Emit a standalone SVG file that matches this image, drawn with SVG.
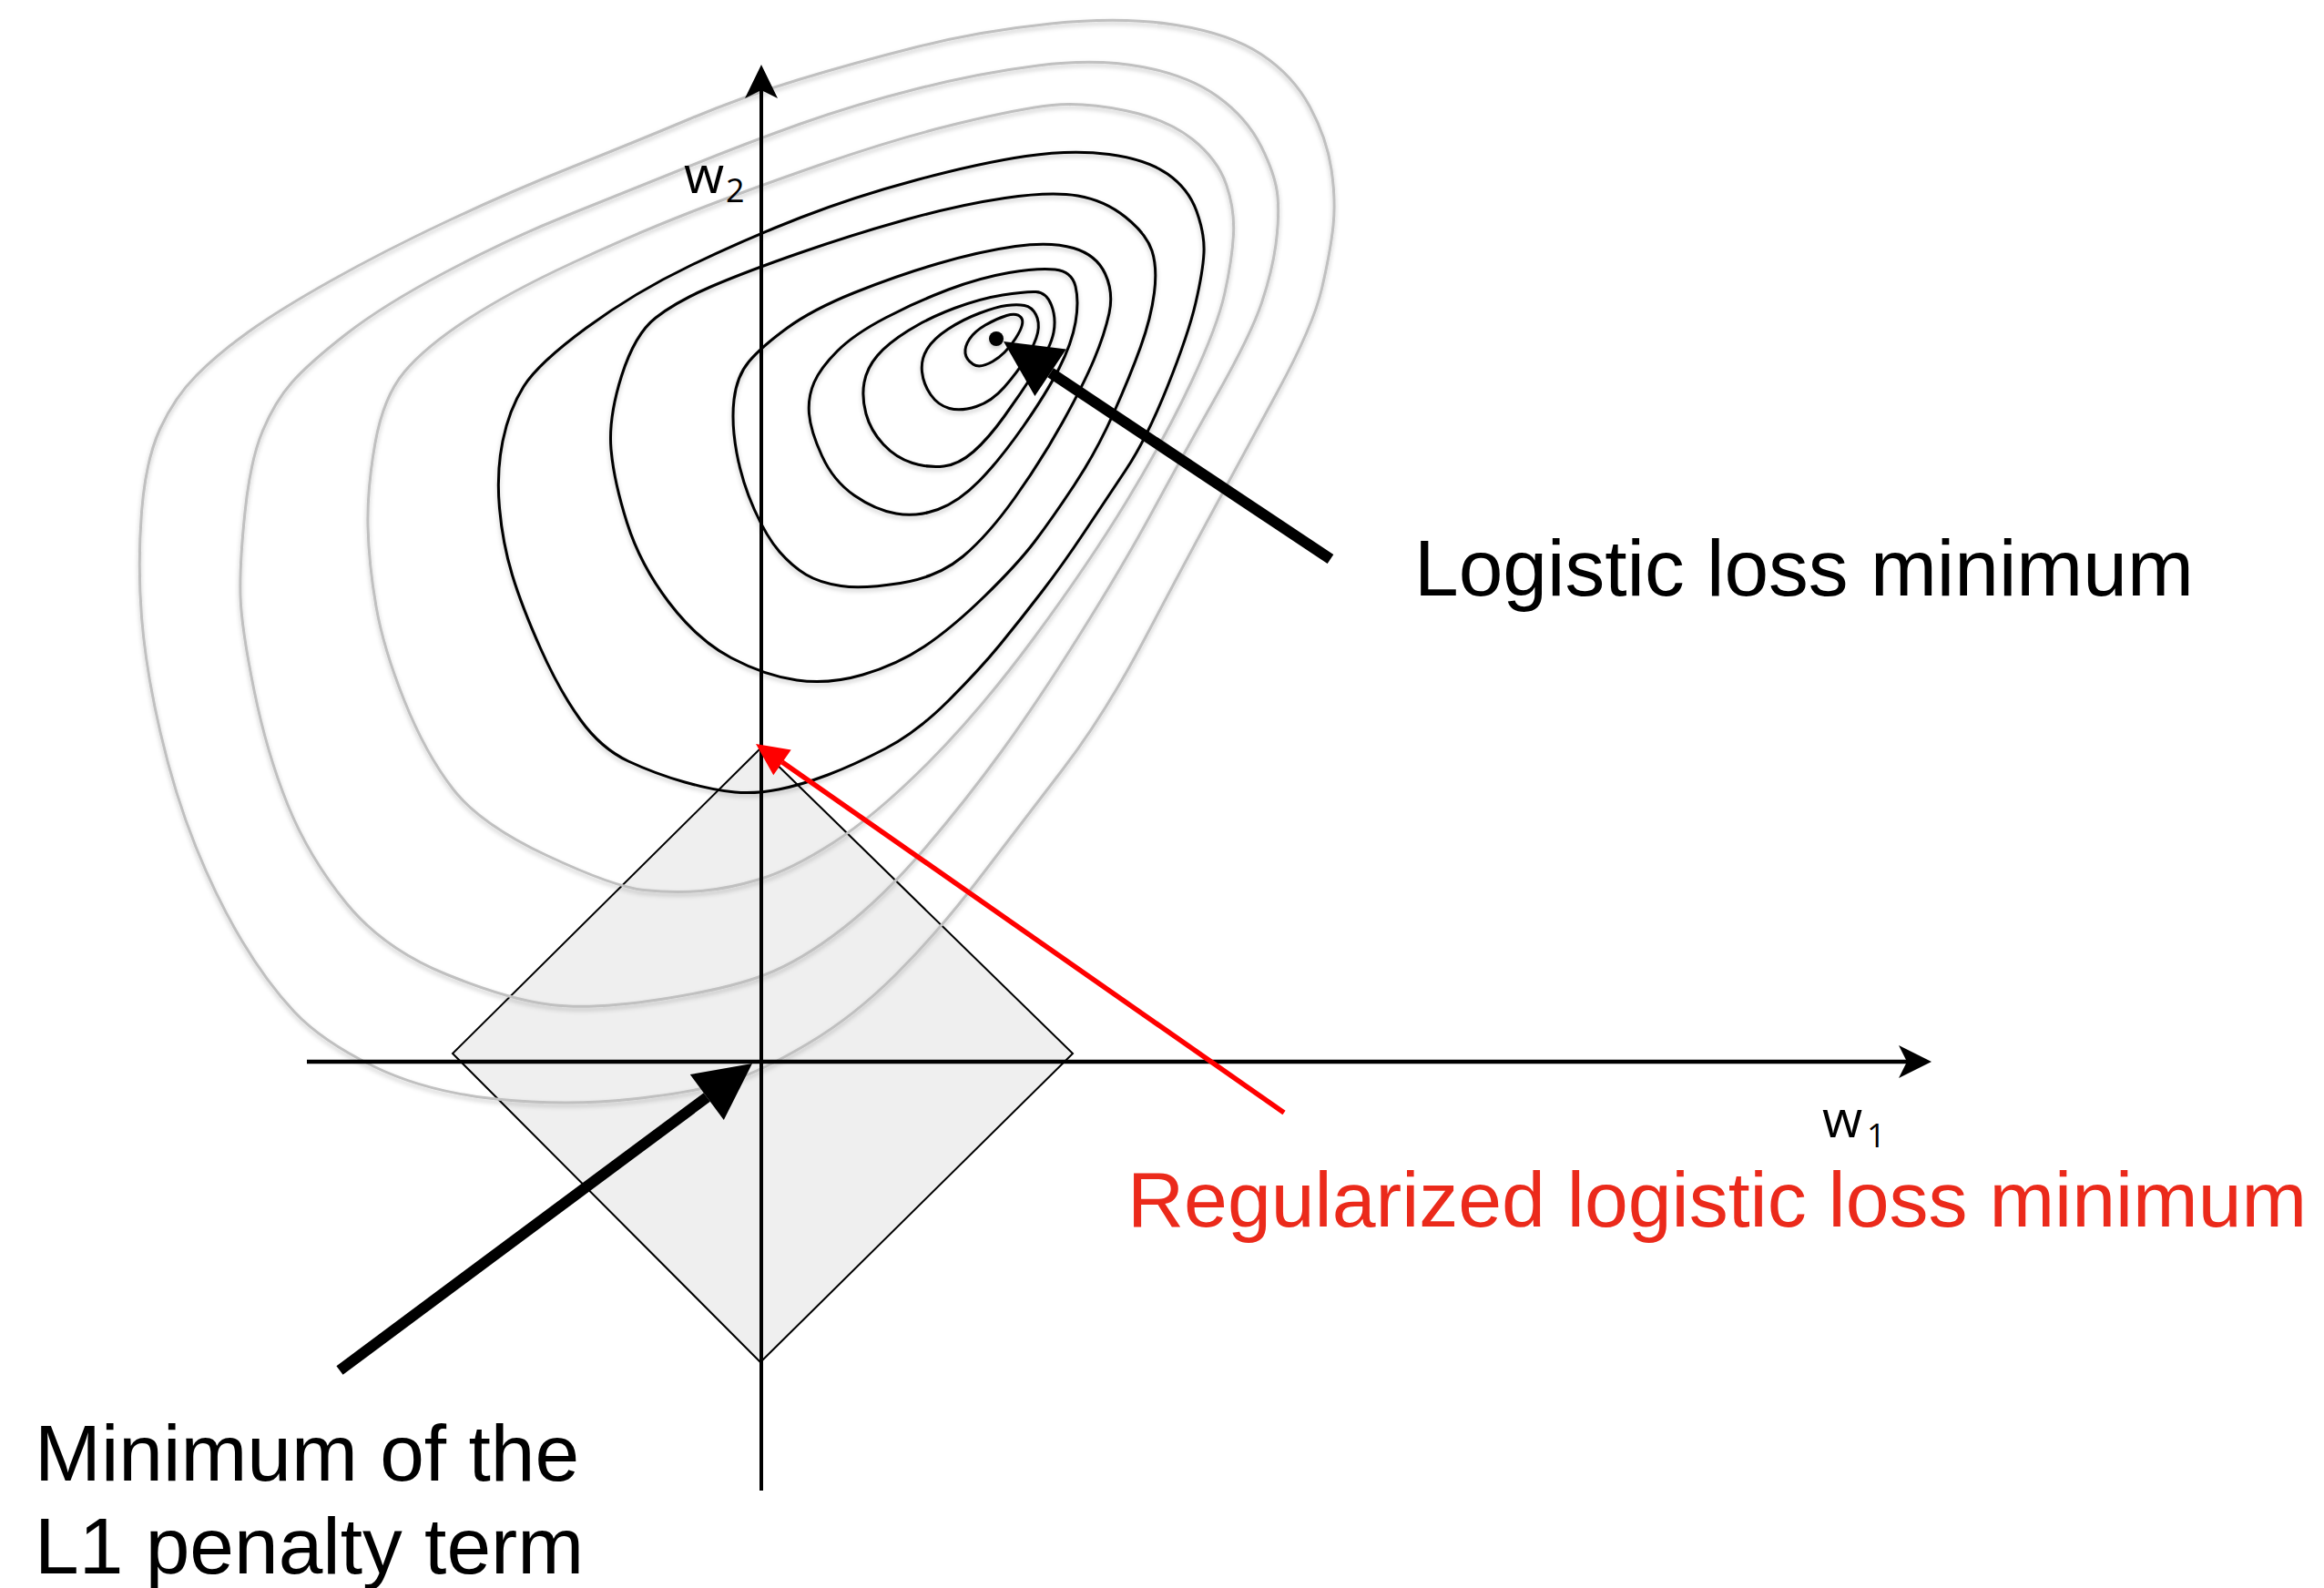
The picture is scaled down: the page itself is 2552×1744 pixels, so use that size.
<svg xmlns="http://www.w3.org/2000/svg" width="2552" height="1744" viewBox="0 0 2552 1744">
<defs>
<style>
.lbl{font-family:"Liberation Sans",Arial,sans-serif;font-size:87.5px;fill:#000}
.red{fill:#eb2a1b;font-size:86px}
.ax{font-family:"Open Sans","Liberation Sans",sans-serif;fill:#000}
.gray{fill:none;stroke:#c0c0c0;stroke-width:3}
.blk{fill:none;stroke:#000;stroke-width:3}
</style>
<filter id="sh" x="-10%" y="-10%" width="120%" height="120%">
<feDropShadow dx="0" dy="3" stdDeviation="2.5" flood-color="#000" flood-opacity="0.22"/>
</filter>
</defs>
<rect width="2552" height="1744" fill="#fff"/>

<g id="l1-penalty">
<polygon points="835,822 1178,1157 835,1496 497,1157" fill="#efefef" stroke="#000" stroke-width="2"/>
</g>

<g id="loss-contours" filter="url(#sh)">
<path class="gray" d="M155.5,562.5 Q160,505 176,470.5 Q192,436 216,412 Q240,388 273.5,364 Q307,340 364,308 Q421,276 490,243.5 Q559,211 628,183.5 Q697,156 756.5,131 Q816,106 877,87.5 Q938,69 1007,51.5 Q1076,34 1154,26 Q1232,18 1291.5,27.5 Q1351,37 1385.5,60 Q1420,83 1438.5,117.5 Q1457,152 1462,186 Q1467,220 1464,248 Q1461,276 1451.5,317 Q1442,358 1403.5,429 Q1365,500 1332.5,560 Q1300,620 1256.5,702.5 Q1213,785 1167,845 Q1121,905 1075.5,964.5 Q1030,1024 984,1070 Q938,1116 887.5,1146 Q837,1176 801.5,1187.5 Q766,1199 694.5,1207 Q623,1215 545,1207 Q467,1199 410,1171 Q353,1143 323,1111 Q293,1079 265.5,1033 Q238,987 215,930 Q192,873 176,804 Q160,735 155.5,677.5 Q151,620 155.5,562.5 Z"/>
<path class="gray" d="M269,562.5 Q275,505 288.5,473 Q302,441 320.5,420 Q339,399 380,367 Q421,335 490,298.5 Q559,262 628,234.5 Q697,207 758.5,182 Q820,157 879,136 Q938,115 1007,97.5 Q1076,80 1140,72 Q1204,64 1254.5,73.5 Q1305,83 1337,106 Q1369,129 1385,161 Q1401,193 1403,216 Q1405,239 1401,268.5 Q1397,298 1385.5,332.5 Q1374,367 1336.5,433.5 Q1299,500 1266.5,560 Q1234,620 1187,695 Q1140,770 1100,825 Q1060,880 1015,932.5 Q970,985 925,1020 Q880,1055 840,1070.5 Q800,1086 725.5,1097.5 Q651,1109 605,1103.5 Q559,1098 490,1070 Q421,1042 380,991.5 Q339,941 316,884 Q293,827 279,758 Q265,689 264,654.5 Q263,620 269,562.5 Z"/>
<path class="gray" d="M404,578.5 Q403,537 412,486.5 Q421,436 444,408.5 Q467,381 513,351 Q559,321 628,289 Q697,257 758.5,233 Q820,209 902,180.5 Q984,152 1052.5,135.5 Q1121,119 1155.5,115.5 Q1190,112 1236,121.5 Q1282,131 1309.5,153 Q1337,175 1346.5,202.5 Q1356,230 1354.5,257.5 Q1353,285 1345,321.5 Q1337,358 1308.5,419 Q1280,480 1237.5,550 Q1195,620 1135.5,700.5 Q1076,781 1018.5,838.5 Q961,896 915,925.5 Q869,955 834.5,965.5 Q800,976 770,978.5 Q740,981 707,977.5 Q674,974 600.5,939.5 Q527,905 497,866 Q467,827 444,769.5 Q421,712 413,666 Q405,620 404,578.5 Z"/>
<path class="blk" d="M552,484.5 Q559,450 575,424.5 Q591,399 644,360 Q697,321 758.5,291.5 Q820,262 879,239 Q938,216 1007,197.5 Q1076,179 1126.5,171.5 Q1177,164 1218,169.5 Q1259,175 1282,191 Q1305,207 1314,232 Q1323,257 1322,277.5 Q1321,298 1313,332.5 Q1305,367 1282,424.5 Q1259,482 1236,516.5 Q1213,551 1190,585.5 Q1167,620 1144,650 Q1121,680 1098.5,707.5 Q1076,735 1041.5,769.5 Q1007,804 972.5,822 Q938,840 909,851 Q880,862 855,867 Q830,872 807,870 Q784,868 752,859 Q720,850 690,836 Q660,822 637,790 Q614,758 593.5,712 Q573,666 562.5,631.5 Q552,597 548.5,558 Q545,519 552,484.5 Z"/>
<path class="blk" d="M682.5,413 Q697,367 720,349 Q743,331 781.5,314.5 Q820,298 879,277.5 Q938,257 995.5,241 Q1053,225 1103.5,217.5 Q1154,210 1183.5,215 Q1213,220 1236,238.5 Q1259,257 1265,275.5 Q1271,294 1267.5,321.5 Q1264,349 1252.5,381 Q1241,413 1222.5,454.5 Q1204,496 1179.5,533 Q1155,570 1136,595 Q1117,620 1081,655 Q1045,690 1015,710 Q985,730 947.5,741 Q910,752 875,747 Q840,742 803,722.5 Q766,703 734.5,661.5 Q703,620 688.5,574 Q674,528 671,493.5 Q668,459 682.5,413 Z"/>
<path class="blk" d="M806,439 Q809,413 822.5,397 Q836,381 864,360.5 Q892,340 938,321.5 Q984,303 1030,289.5 Q1076,276 1115,270.5 Q1154,265 1179,272.5 Q1204,280 1213.5,300.5 Q1223,321 1218,344 Q1213,367 1201.5,394.5 Q1190,422 1167,463.5 Q1144,505 1114.5,546.5 Q1085,588 1057.5,611 Q1030,634 988.5,640.5 Q947,647 923.5,643.5 Q900,640 885,631 Q870,622 856,606 Q842,590 828.5,560 Q815,530 809,497.5 Q803,465 806,439 Z"/>
<path class="blk" d="M894,420 Q901,404 919.5,385.5 Q938,367 972.5,349 Q1007,331 1041.5,318 Q1076,305 1108,299.5 Q1140,294 1158.5,296 Q1177,298 1181,314.5 Q1185,331 1181,354 Q1177,377 1163,404.5 Q1149,432 1123.5,468.5 Q1098,505 1075.5,528 Q1053,551 1030,559.5 Q1007,568 984,564 Q961,560 938,544 Q915,528 902.5,500.5 Q890,473 888.5,454.5 Q887,436 894,420 Z"/>
<path class="blk" d="M949,420 Q952,404 963.5,390.5 Q975,377 997.5,363 Q1020,349 1048,338.5 Q1076,328 1101,324 Q1126,320 1137.5,320.5 Q1149,321 1154.5,335 Q1160,349 1157,365 Q1154,381 1137.5,406.5 Q1121,432 1103,457 Q1085,482 1069,496 Q1053,510 1036.5,512 Q1020,514 1002,508.5 Q984,503 970,488 Q956,473 951,454.5 Q946,436 949,420 Z"/>
<path class="blk" d="M1018,383.5 Q1025,372 1041,361.5 Q1057,351 1075.5,344 Q1094,337 1105.5,335.5 Q1117,334 1125,335.5 Q1133,337 1137.5,345.5 Q1142,354 1139.5,365.5 Q1137,377 1127,393 Q1117,409 1103,425 Q1089,441 1072,446.5 Q1055,452 1042.5,448.5 Q1030,445 1022,433.5 Q1014,422 1012.5,408.5 Q1011,395 1018,383.5 Z"/>
<path class="blk" d="M1064.5,372.5 Q1070,364 1082,357 Q1094,350 1105.5,346.5 Q1117,343 1121.5,349 Q1126,355 1115,372 Q1104,389 1090,397 Q1076,405 1068.5,400 Q1061,395 1060,388 Q1059,381 1064.5,372.5 Z"/>
<circle cx="1094" cy="372" r="8" fill="#000"/>
</g>

<g id="axes">
<line x1="836" y1="98" x2="836" y2="1637" stroke="#000" stroke-width="4"/>
<path d="M836,71 L854,108 L836,99 L818,108 Z" fill="#000"/>
<line x1="337" y1="1166" x2="2096" y2="1166" stroke="#000" stroke-width="4.5"/>
<path d="M2121,1166 L2085,1148 L2094,1166 L2085,1184 Z" fill="#000"/>
<text class="ax" font-size="57" x="751" y="212">w</text>
<text class="ax" font-size="36" x="797" y="222">2</text>
<text class="ax" font-size="57" x="2001" y="1249">w</text>
<text class="ax" font-size="36" x="2050" y="1260">1</text>
</g>

<g id="connectors">
<line x1="1153.6" y1="409.3" x2="1461" y2="614" stroke="#000" stroke-width="12"/>
<polygon points="1102,375 1170.8,383.5 1136.4,435.1" fill="#000"/>
<line x1="776.3" y1="1205" x2="373" y2="1505" stroke="#000" stroke-width="12"/>
<polygon points="826,1168 794.8,1229.9 757.8,1180.1" fill="#000"/>
<line x1="859" y1="837" x2="1410" y2="1222" stroke="#ff0000" stroke-width="5.5"/>
<polygon points="830,817 868.7,823.4 849.3,851.2" fill="#ff0000"/>
</g>

<g id="label-logistic">
<text class="lbl" x="1553" y="654">Logistic loss minimum</text>
</g>
<g id="label-regularized">
<text class="lbl red" x="1238" y="1347">Regularized logistic loss minimum</text>
</g>
<g id="label-l1">
<text class="lbl" x="38" y="1626">Minimum of the</text>
<text class="lbl" x="38" y="1728">L1 penalty term</text>
</g>
</svg>
